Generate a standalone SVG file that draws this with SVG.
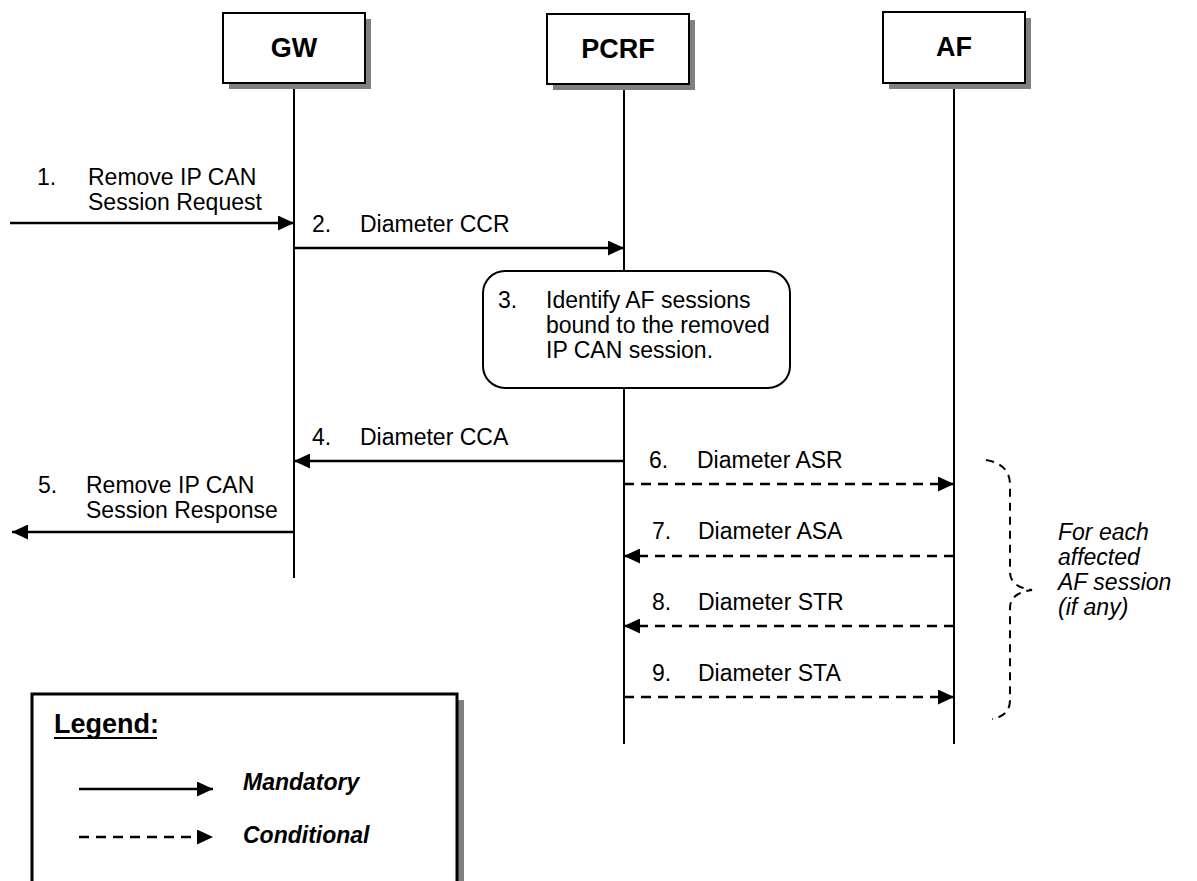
<svg xmlns="http://www.w3.org/2000/svg" width="1197" height="881" viewBox="0 0 1197 881">
<defs>
<marker id="ah" markerWidth="16" markerHeight="15" refX="16" refY="7.5" orient="auto" markerUnits="userSpaceOnUse">
<path d="M0,0 L16,7.5 L0,15 Z" fill="#000"/>
</marker>
<style>
text{font-family:"Liberation Sans",Arial,sans-serif;fill:#000}
.lbl{font-size:23px}
.node{font-size:27px;font-weight:bold;text-anchor:middle}
.box{fill:#fff;stroke:#000;stroke-width:2}
.shadow{fill:#808080}
.life{stroke:#000;stroke-width:2;fill:none}
.solid{stroke:#000;stroke-width:2.5;fill:none;marker-end:url(#ah)}
.dash{stroke:#000;stroke-width:2.5;fill:none;stroke-dasharray:10 7;marker-end:url(#ah)}
.it{font-size:23px;font-style:italic}
.bi{font-size:23px;font-style:italic;font-weight:bold}
</style>
</defs>
<rect width="1197" height="881" fill="#fff"/>

<g id="lifelines">
<line class="life" x1="294" y1="83" x2="294" y2="578"/>
<line class="life" x1="624" y1="84" x2="624" y2="744"/>
<line class="life" x1="954" y1="83" x2="954" y2="744"/>
</g>

<g id="GW">
<rect class="shadow" x="229" y="19" width="142" height="70"/>
<rect class="box" x="223" y="13" width="142" height="70"/>
<text class="node" x="294" y="57">GW</text>
</g>
<g id="PCRF">
<rect class="shadow" x="553" y="20" width="142" height="70"/>
<rect class="box" x="547" y="14" width="142" height="70"/>
<text class="node" x="618" y="58">PCRF</text>
</g>
<g id="AF">
<rect class="shadow" x="889" y="18" width="142" height="71"/>
<rect class="box" x="883" y="12" width="142" height="71"/>
<text class="node" x="954" y="56">AF</text>
</g>

<g id="step3">
<rect class="box" x="483" y="271" width="307" height="117" rx="22" ry="22"/>
<text class="lbl" x="498" y="308">3.</text>
<text class="lbl" x="546" y="308">Identify AF sessions</text>
<text class="lbl" x="546" y="333">bound to the removed</text>
<text class="lbl" x="546" y="358">IP CAN session.</text>
</g>

<g id="connectors">
<line class="solid" x1="10" y1="223" x2="294" y2="223"/>
<line class="solid" x1="294" y1="248" x2="624" y2="248"/>
<line class="solid" x1="624" y1="461" x2="294" y2="461"/>
<line class="solid" x1="294" y1="532" x2="12" y2="532"/>
<line class="dash" x1="624" y1="484" x2="954" y2="484"/>
<line class="dash" x1="954" y1="556" x2="624" y2="556"/>
<line class="dash" x1="954" y1="626" x2="624" y2="626"/>
<line class="dash" x1="624" y1="697" x2="954" y2="697"/>
</g>

<g id="labels">
<text class="lbl" x="37" y="185">1.</text>
<text class="lbl" x="88" y="185">Remove IP CAN</text>
<text class="lbl" x="88" y="210">Session Request</text>
<text class="lbl" x="312" y="232">2.</text>
<text class="lbl" x="360" y="232">Diameter CCR</text>
<text class="lbl" x="312" y="445">4.</text>
<text class="lbl" x="360" y="445">Diameter CCA</text>
<text class="lbl" x="38" y="493">5.</text>
<text class="lbl" x="86" y="493">Remove IP CAN</text>
<text class="lbl" x="86" y="518">Session Response</text>
<text class="lbl" x="649" y="468">6.</text>
<text class="lbl" x="697" y="468">Diameter ASR</text>
<text class="lbl" x="652" y="539">7.</text>
<text class="lbl" x="698" y="539">Diameter ASA</text>
<text class="lbl" x="652" y="610">8.</text>
<text class="lbl" x="698" y="610">Diameter STR</text>
<text class="lbl" x="652" y="681">9.</text>
<text class="lbl" x="698" y="681">Diameter STA</text>
</g>

<g id="brace">
<path d="M986,460 Q1010,464 1010,485 L1010,572 Q1010,587 1032,590 Q1010,593 1010,608 L1010,700 Q1010,716 992,719" fill="none" stroke="#000" stroke-width="2" stroke-dasharray="8 6"/>
<text class="it" x="1058" y="540">For each</text>
<text class="it" x="1058" y="565">affected</text>
<text class="it" x="1058" y="590">AF session</text>
<text class="it" x="1058" y="615">(if any)</text>
</g>

<g id="legend">
<rect class="shadow" x="38" y="700" width="426" height="200"/>
<rect x="32" y="694" width="425" height="210" fill="#fff" stroke="#000" stroke-width="3"/>
<text x="54" y="733" style="font-size:27px;font-weight:bold">Legend:</text>
<line x1="54" y1="738" x2="157" y2="738" stroke="#000" stroke-width="2"/>
<line class="solid" x1="79" y1="789" x2="213" y2="789"/>
<text class="bi" x="243" y="790">Mandatory</text>
<line class="dash" x1="79" y1="837" x2="213" y2="837"/>
<text class="bi" x="243" y="843">Conditional</text>
</g>
</svg>
